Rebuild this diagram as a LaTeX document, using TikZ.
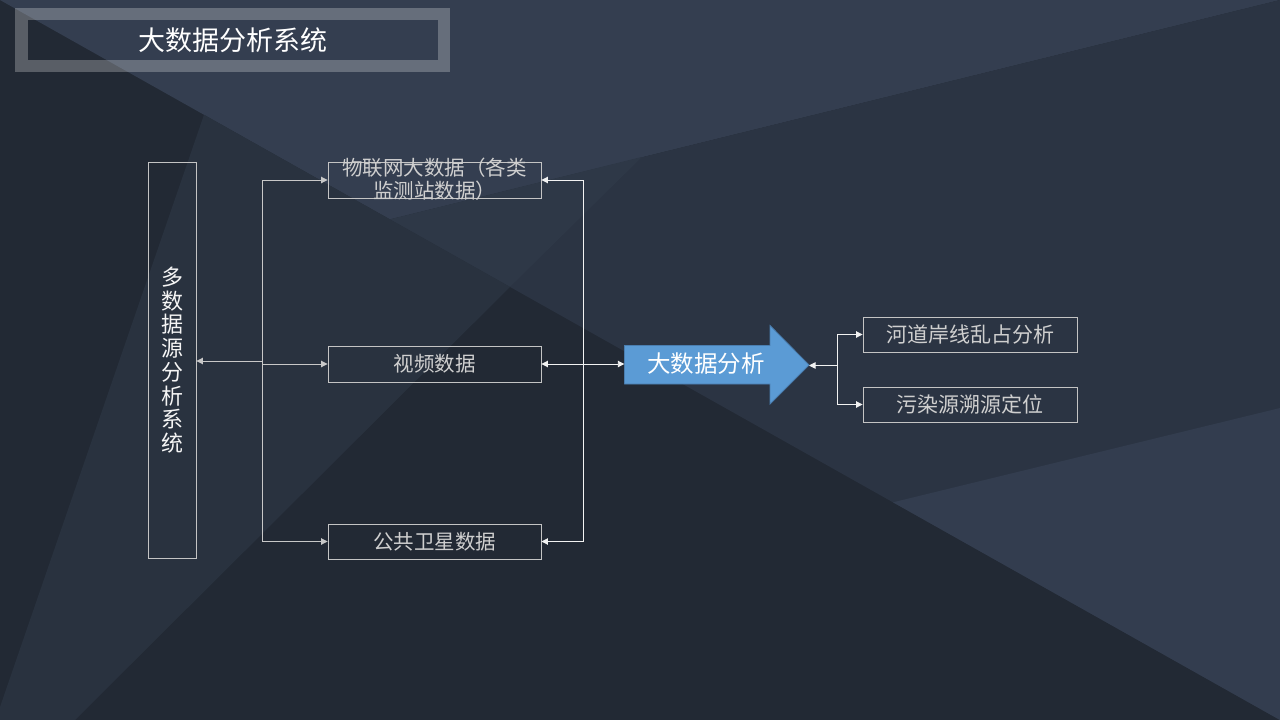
\documentclass[tikz,border=0pt]{standalone}
\usepackage{fontspec}
\newfontfamily\cjk{Noto Sans CJK SC}
\usetikzlibrary{arrows.meta}
\definecolor{bgdark}{HTML}{222934}
\definecolor{bgwedge}{HTML}{29323F}
\definecolor{bgtop}{HTML}{343E50}
\definecolor{bgmid}{HTML}{2B3443}
\definecolor{bgtri}{HTML}{2E3847}
\definecolor{bgright}{HTML}{333D4F}
\definecolor{boxline}{HTML}{C4C4C4}
\definecolor{boxtext}{HTML}{CFCFCF}
\definecolor{lline}{HTML}{C8C8C8}
\definecolor{rline}{HTML}{F2F2F2}
\definecolor{arrowblue}{HTML}{5B9BD5}
\definecolor{arrowedge}{HTML}{4A7EB0}
\tikzset{
  databox/.style={draw=boxline, line width=0.9pt, minimum width=213pt, minimum height=36pt, inner sep=0pt, text=boxtext, font=\cjk\fontsize{20.5}{23}\selectfont},
  resbox/.style={draw=boxline, line width=0.9pt, minimum width=214pt, minimum height=35pt, inner sep=0pt, text=boxtext, font=\cjk\fontsize{21}{24}\selectfont},
  tip/.tip={Triangle[length=6.5pt,width=6.5pt]},
  lconn/.style={draw=lline, line width=0.9pt, -{Triangle[length=6.5pt,width=6.5pt]}},
  rconn/.style={draw=rline, line width=0.9pt, -{Triangle[length=6.5pt,width=6.5pt]}},
  rconnboth/.style={draw=rline, line width=0.9pt, {Triangle[length=6.5pt,width=6.5pt]}-{Triangle[length=6.5pt,width=6.5pt]}}
}
\begin{document}
\begin{tikzpicture}[x=1pt,y=-1pt]
\useasboundingbox (0,0) rectangle (1280,720);
% background
\fill[bgdark] (0,0) rectangle (1280,720);
\fill[bgtop] (0,0) -- (1280,0) -- (390,219.4) -- cycle;
\fill[bgmid] (390,219.4) -- (1280,0) -- (1280,720) -- cycle;
\fill[bgtri] (390,219.4) -- (642,157) -- (510,286.9) -- cycle;
\fill[bgright] (893,502.3) -- (1280,408) -- (1280,720) -- cycle;
\fill[bgwedge] (204,114.75) -- (510,286.9) -- (75,720) -- (0,720) -- (0,707) -- cycle;
% title frame
\draw[white, opacity=0.25, line width=12.5pt] (21.5,14) rectangle (444,66);
\node[text=white, font=\cjk\fontsize{27}{32}\selectfont] (title) at (232.5,40) {大数据分析系统};
% boxes
\node[draw=boxline, line width=0.9pt, minimum width=48pt, minimum height=396pt, inner sep=0pt, text=white!92!gray, align=center, font=\cjk\fontsize{22}{23.75}\selectfont] (multi) at (172,360) {多\\数\\据\\源\\分\\析\\系\\统};
\node[databox] (iot) at (434.5,180) {};
\node[text=boxtext, align=center, inner sep=0pt, font=\cjk\fontsize{20.5}{23}\selectfont] (iottext) at (434.5,179.5) {物联网大数据（各类\\监测站数据）};
\node[databox] (video) at (434.5,364) {视频数据};
\node[databox, minimum height=35pt] (sat) at (434.5,541.5) {公共卫星数据};
\node[resbox] (r1) at (970,334.5) {河道岸线乱占分析};
\node[resbox] (r2) at (970,404.5) {污染源溯源定位};
% big arrow
\filldraw[fill=arrowblue, draw=arrowedge, line width=0.8pt] (624.5,345.5) -- (770,345.5) -- (770,325.5) -- (809,365) -- (770,404) -- (770,384) -- (624.5,384) -- cycle;
\node[minimum width=145.5pt, minimum height=38.5pt, inner sep=0pt] (big) at (697.25,364.75) {};
\node[text=white, font=\cjk\fontsize{23.5}{28}\selectfont] (bigtext) at (706,364) {大数据分析};
\coordinate (bigtip) at (809,365);
% left connectors
\coordinate (lbus) at (262,361);
\draw[lconn] (lbus) -- (lbus -| multi.east);
\draw[lconn] (lbus) |- (iot.west);
\draw[lconn] (lbus) |- (video.west);
\draw[lconn] (lbus) |- (sat.west);
% right connectors
\coordinate (rbus) at (583,364);
\draw[rconn] (rbus) |- (iot.east);
\draw[rconn] (rbus) |- (sat.east);
\draw[rconnboth] (video.east) -- (video.east -| big.west);
% fork
\coordinate (fork) at (837,365.5);
\draw[rconn] (fork) -- (fork -| bigtip);
\draw[rconn] (fork) |- (r1.west);
\draw[rconn] (fork) |- (r2.west);
\end{tikzpicture}
\end{document}
